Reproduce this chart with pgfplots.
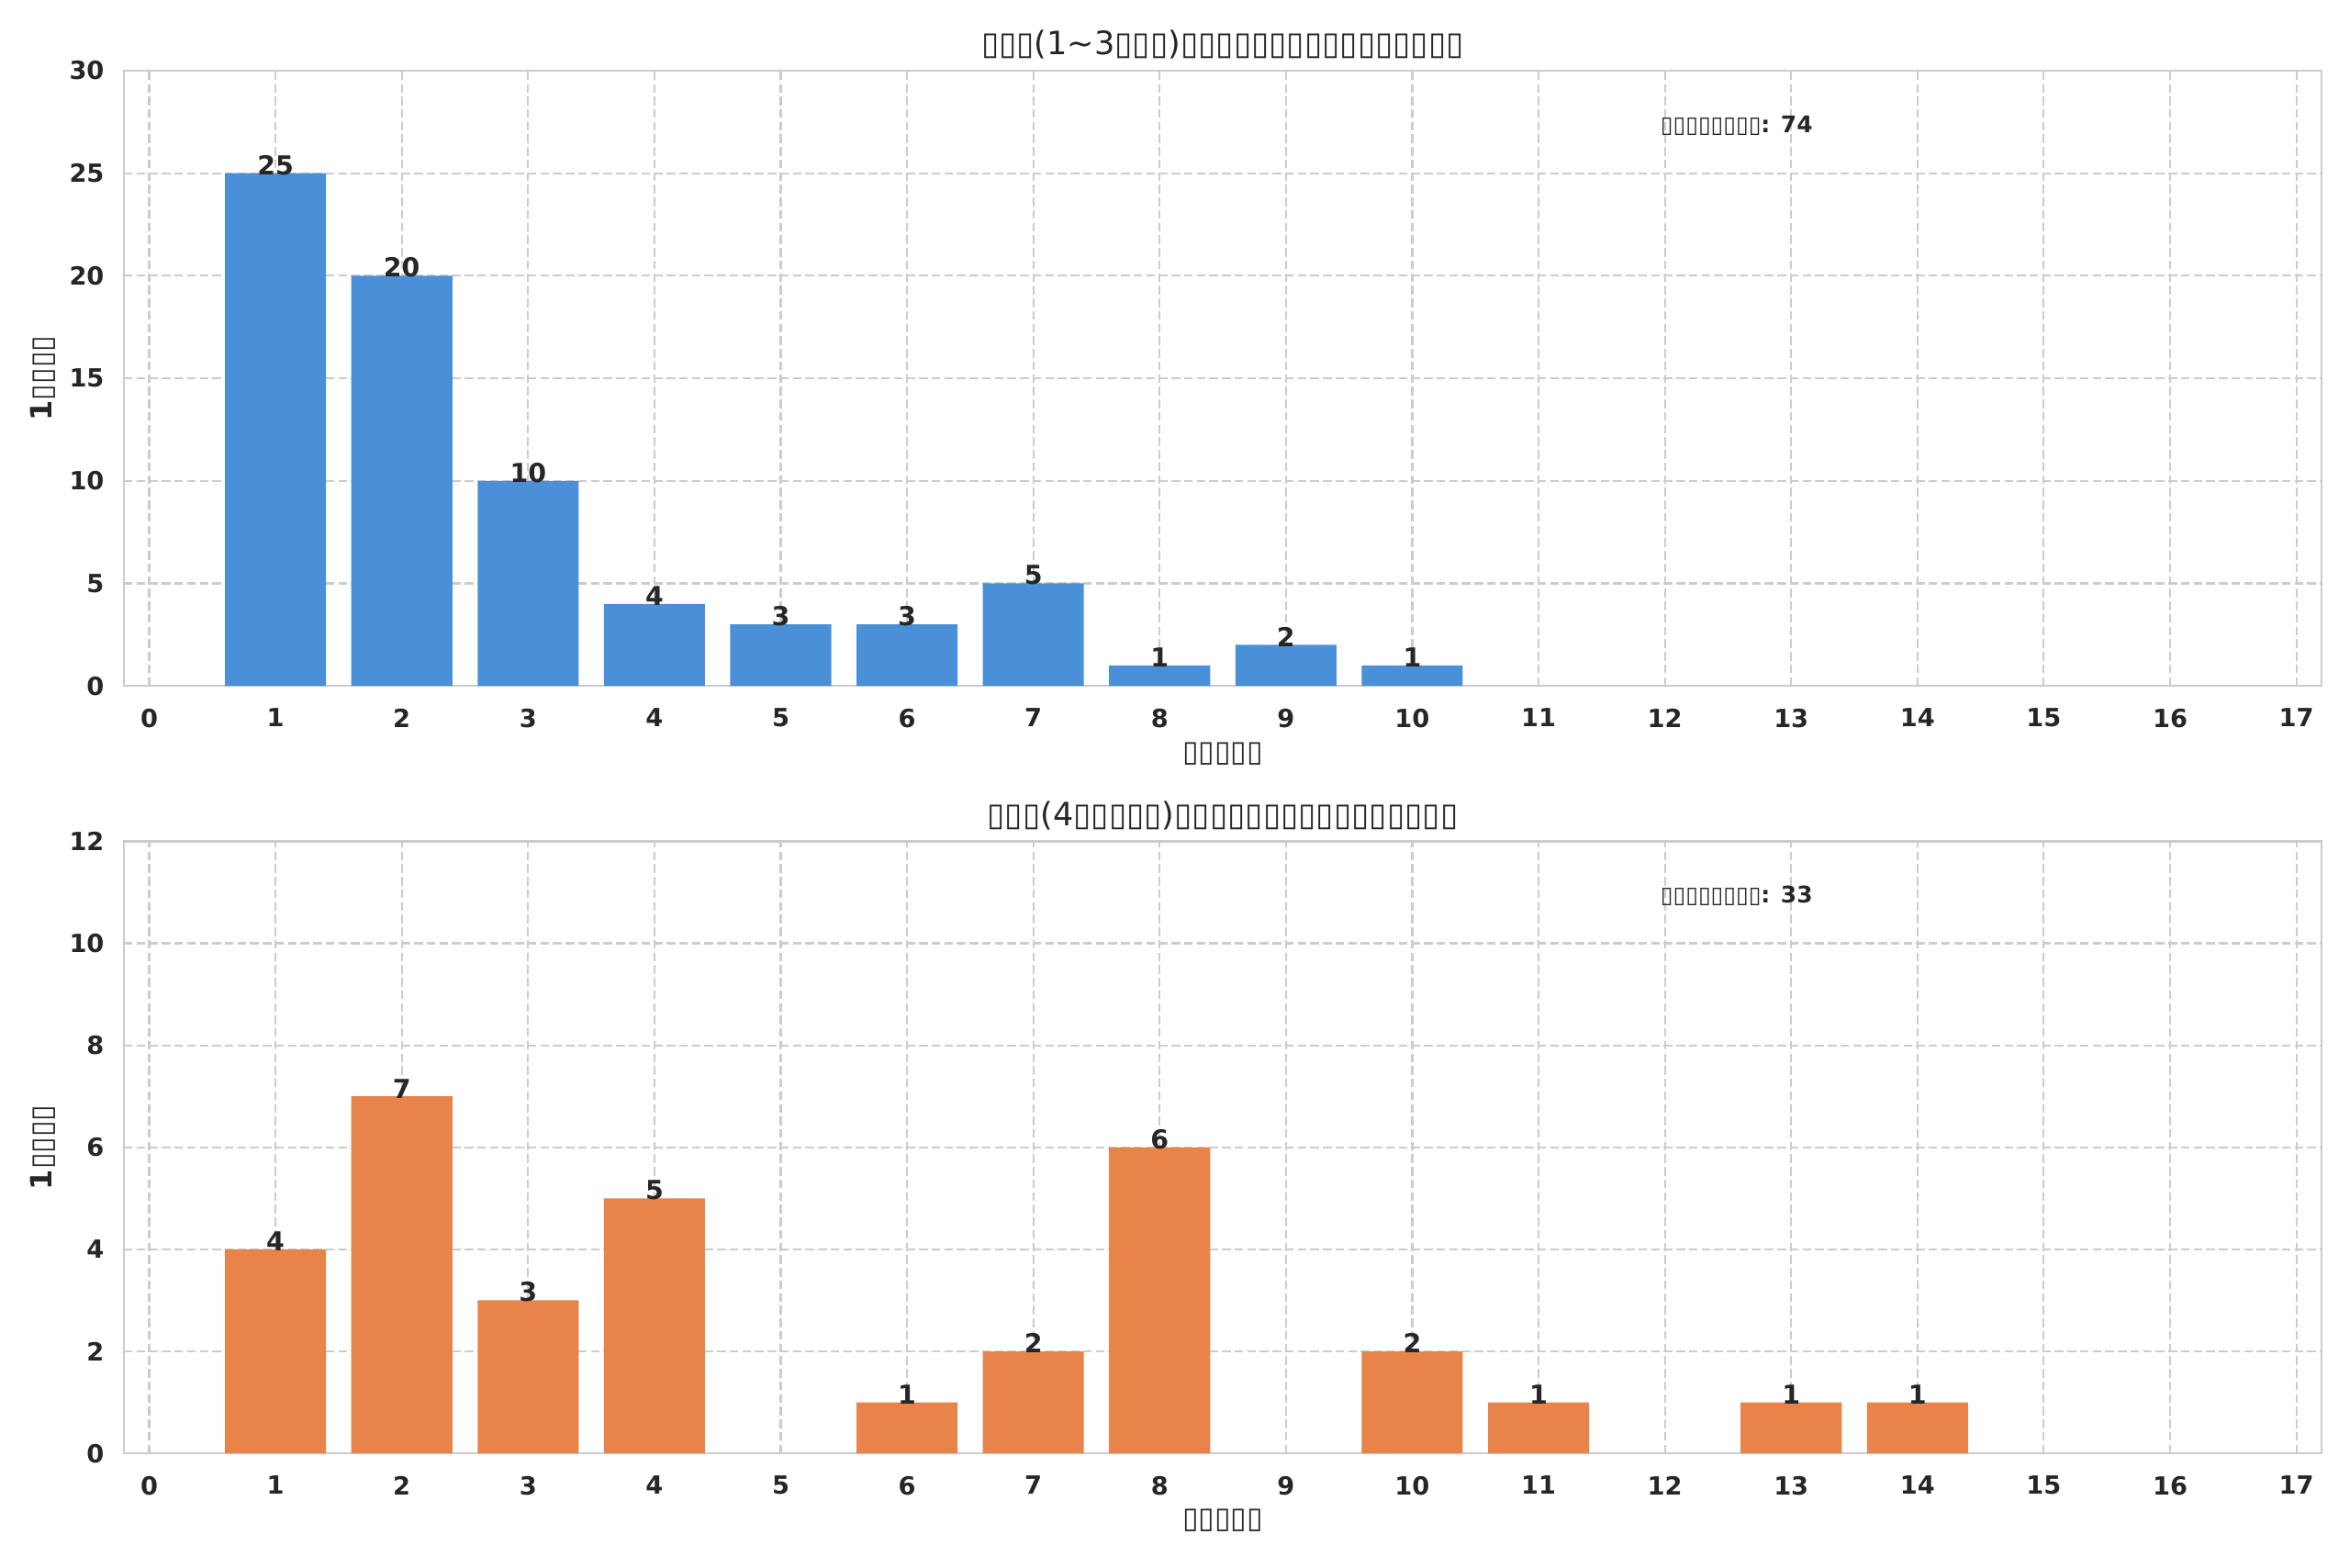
\documentclass[border=0pt]{standalone}
\usepackage{pgfplots}
\pgfplotsset{compat=1.18}
\usepackage{fontspec}
\setmainfont{DejaVu Sans}
\definecolor{txt}{HTML}{262626}
\definecolor{gridc}{HTML}{CCCCCC}
\definecolor{barblue}{HTML}{4A90D9}
\definecolor{barorange}{HTML}{E8834A}
\newcommand{\fs}[1]{\fontsize{#1}{#1}\selectfont}
\pgfplotsset{
  every axis title shift=0pt,
  mystyle/.style={
    scale only axis,
    width=1010pt,
    xmin=-0.2, xmax=17.2,
    xtick={0,1,...,17},
    ymin=0,
    grid=major,
    major grid style={gridc, line width=0.9pt, dash pattern=on 4pt off 1.8pt},
    axis line style={gridc, line width=1pt},
    major tick length=0pt,
    /pgf/number format/assume math mode=true,
    tick label style={font=\fs{11.5pt}\bfseries, text=txt},
    xticklabel style={inner sep=0pt, anchor=north, yshift=-10.3pt},
    yticklabel style={inner sep=0pt, anchor=east, xshift=-8.9pt},
    title style={font=\fs{14.8pt}, text=txt, at={(axis description cs:0.5,1.042)}, anchor=center, inner sep=0pt},
    xlabel style={font=\fs{13.5pt}\bfseries, text=txt, at={(axis description cs:0.5,-0.11)}, anchor=center, inner sep=0pt},
    ylabel style={font=\fs{13.5pt}\bfseries, text=txt, at={(axis description cs:-0.0368,0.5)}, anchor=center, inner sep=0pt, rotate=0},
    nodes near coords,
    every node near coord/.append style={font=\fs{12pt}\bfseries, text=txt, inner sep=0pt, anchor=south, yshift=-1pt},
  }
}
\begin{document}
\begin{tikzpicture}[x=1pt,y=1pt]
\useasboundingbox (0,0) rectangle (1080,-720.2);
\begin{axis}[mystyle,
  at={(56.96pt,-315.2pt)}, anchor=south west,
  height=282.7pt,
  ymax=30, ytick={0,5,...,30},
  title={▯▯▯(1\string~3▯▯▯)▯▯▯▯▯▯▯▯▯▯▯▯▯▯▯▯},
  xlabel={▯▯▯▯▯},
  ylabel={1▯▯▯▯},
]
\addplot[ybar, bar width=0.8, fill=barblue, draw=none] coordinates {
(1,25) (2,20) (3,10) (4,4) (5,3) (6,3) (7,5) (8,1) (9,2) (10,1)
};
\node[anchor=west, font=\fs{10.5pt}\bfseries, text=txt, inner sep=0pt] at (rel axis cs:0.699,0.911) {▯▯▯▯▯▯▯▯: 74};
\end{axis}
\begin{axis}[mystyle,
  at={(56.96pt,-667.9pt)}, anchor=south west,
  height=281.3pt,
  ymax=12, ytick={0,2,...,12},
  title={▯▯▯(4▯▯▯▯▯)▯▯▯▯▯▯▯▯▯▯▯▯▯▯▯▯},
  xlabel={▯▯▯▯▯},
  ylabel={1▯▯▯▯},
]
\addplot[ybar, bar width=0.8, fill=barorange, draw=none] coordinates {
(1,4) (2,7) (3,3) (4,5) (6,1) (7,2) (8,6) (10,2) (11,1) (13,1) (14,1)
};
\node[anchor=west, font=\fs{10.5pt}\bfseries, text=txt, inner sep=0pt] at (rel axis cs:0.699,0.911) {▯▯▯▯▯▯▯▯: 33};
\end{axis}
\end{tikzpicture}
\end{document}
